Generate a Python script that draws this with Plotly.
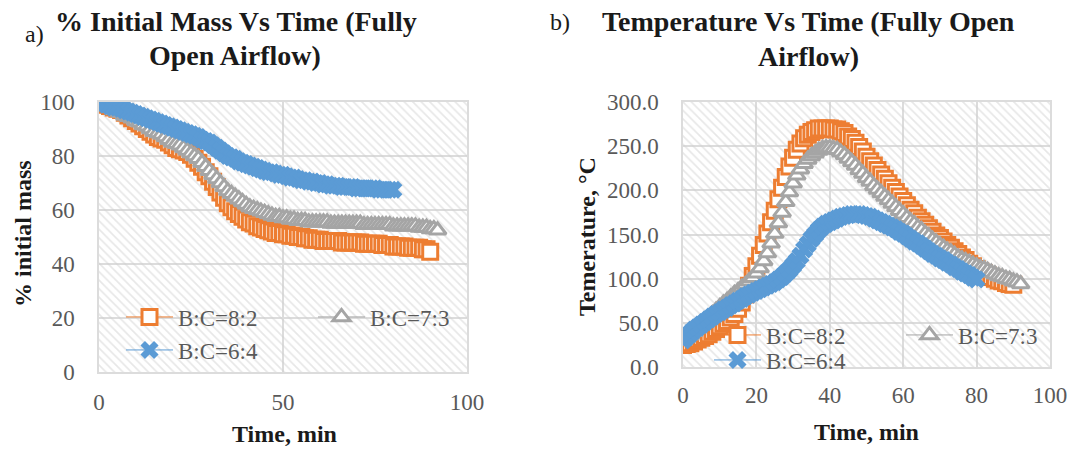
import plotly.graph_objects as go

W, H = 1081, 450

def px(x):
    return x / W

def py(y):
    return 1 - y / H

# ---------------- data ----------------
series_names = ["B:C=8:2", "B:C=7:3", "B:C=6:4"]
series_colors = ["#ED7D31", "#A5A5A5", "#5B9BD5"]

time_82 = list(range(0, 91))
time_73 = list(range(0, 93))
time_64 = list(range(0, 81))

mass_82 = [100, 99.5, 99, 98.5, 98, 97.5, 97, 96, 95, 94,
           93, 92, 91, 90, 89, 88, 87, 86.5, 86, 85,
           84, 83, 82.5, 82, 81.5, 80.5, 79, 77.5, 76, 74,
           72.5, 70.5, 68.5, 66.5, 64.5, 62.5, 61, 59.5, 58.5, 57.5,
           56.5, 55.5, 55, 54, 53.5, 53, 52.5, 52, 51.5, 51.5,
           51, 51, 50.5, 50.5, 50, 50, 49.5, 49.5, 49, 49,
           49, 48.5, 48.5, 48.5, 48.5, 48.5, 48, 48, 48, 48,
           48, 48, 47.5, 47.5, 47.5, 47.5, 47.5, 47, 47, 47,
           46.5, 46.5, 46.5, 46.5, 46, 46, 46, 46, 45.5, 45.5,
           44.5]

mass_73 = [100, 99, 98.5, 98, 97, 96.5, 96, 95, 94.5, 94,
           93, 92.5, 91.5, 91, 90, 89, 88.5, 88, 87, 86,
           85, 84.5, 84, 83, 82, 81, 80, 79, 77.5, 76,
           74.5, 73, 71.5, 70, 68.5, 67, 66, 65, 64, 63,
           62, 61, 60.5, 60, 59.5, 59, 58.5, 58, 57.5, 57.5,
           57, 57, 56.5, 56.5, 56, 56, 56, 55.5, 55.5, 55.5,
           55.5, 55.5, 55.5, 55, 55, 55, 55, 55, 55, 55,
           55, 55, 54.5, 54.5, 54.5, 54.5, 54.5, 54.5, 54.5, 54.5,
           54, 54, 54, 54, 54, 54, 54, 53.5, 53.5, 53.5,
           53, 53, 52.5]

mass_64 = [100, 99.5, 99, 98.5, 98, 98, 97.5, 97, 96.5, 96,
           95.5, 95, 94.5, 94, 93.5, 93, 92.5, 92, 91.5, 91,
           90.5, 90, 89.5, 89, 88.5, 88, 87.5, 87, 86, 85.5,
           85, 84, 83, 82, 81, 80, 79.5, 79, 78, 77.5,
           77, 76.5, 76, 75.5, 75, 74.5, 74, 74, 73.5, 73,
           73, 72.5, 72, 72, 71.5, 71, 71, 70.5, 70.5, 70,
           70, 69.5, 69.5, 69, 69, 69, 68.5, 68.5, 68.5, 68.5,
           68, 68, 68, 68, 68, 68, 67.5, 67.5, 67.5, 67.5,
           67.5]

temp_82 = [25, 26, 27, 29, 31, 33, 35, 37, 40, 43,
           46, 49, 52, 56, 60, 66, 73, 82, 92, 103,
           114, 126, 138, 151, 164, 177, 190, 203, 215, 227,
           237, 246, 253, 259, 263, 266, 268, 270, 270, 270,
           270, 269, 269, 267, 265, 261, 258, 254, 249, 244,
           238, 233, 228, 223, 218, 213, 208, 203, 198, 193,
           188, 183, 178, 174, 169, 165, 161, 157, 153, 149,
           146, 142, 138, 135, 131, 128, 124, 121, 117, 114,
           111, 108, 106, 104, 102, 100, 98, 97, 95, 94,
           93]

temp_73 = [30, 33, 36, 40, 44, 48, 52, 56, 60, 64,
           68, 72, 75, 79, 83, 86, 90, 93, 97, 101,
           106, 112, 120, 129, 140, 151, 163, 175, 187, 198,
           208, 217, 224, 230, 235, 239, 242, 245, 247, 248,
           248, 247, 246, 243, 240, 236, 232, 228, 223, 219,
           214, 210, 205, 201, 197, 193, 189, 185, 181, 177,
           173, 169, 165, 162, 158, 155, 151, 148, 144, 141,
           138, 135, 132, 130, 127, 124, 122, 120, 118, 116,
           114, 112, 111, 109, 107, 105, 103, 102, 100, 99,
           97, 96, 94]

temp_64 = [30, 34, 38, 42, 45, 48, 51, 54, 57, 60,
           62, 65, 67, 70, 72, 75, 77, 80, 82, 84,
           86, 88, 90, 92, 94, 96, 99, 102, 106, 110,
           115, 120, 126, 133, 139, 145, 150, 155, 159, 162,
           164, 166, 168, 170, 171, 172, 173, 173, 173, 172,
           171, 170, 168, 166, 164, 162, 160, 158, 156, 153,
           151, 148, 145, 142, 140, 137, 134, 131, 128, 126,
           123, 121, 118, 116, 113, 111, 108, 106, 104, 101,
           99]

mass_ticks = [0, 20, 40, 60, 80, 100]
mass_time_ticks = [0, 50, 100]
temp_ticks = [0, 50, 100, 150, 200, 250, 300]
temp_tick_text = ["0.0", "50.0", "100.0", "150.0", "200.0", "250.0", "300.0"]
temp_time_ticks = [0, 20, 40, 60, 80, 100]

x_range = [0, 100]
mass_range = [0, 100]
temp_range = [0, 300]

# ---------------- style ----------------
SERIF = "Liberation Serif, Times New Roman, DejaVu Serif, serif"
GRID = "#dcdcdc"
TICKC = "#595959"
TXT = "#1a1a1a"

marker_styles = [
    dict(symbol="square", size=15, color="white", line=dict(color=series_colors[0], width=3)),
    dict(symbol="triangle-up", size=15, color="white", line=dict(color=series_colors[1], width=3)),
    dict(symbol="x", size=16, color=series_colors[2], line=dict(width=0)),
]

fig = go.Figure()

# hatched plot backgrounds (drawn from axis ranges)
for xa, ya, yr in [("x", "y", mass_range), ("x2", "y2", temp_range)]:
    fig.add_trace(go.Scatter(
        x=[x_range[0], x_range[1], x_range[1], x_range[0], x_range[0]],
        y=[yr[0], yr[0], yr[1], yr[1], yr[0]],
        xaxis=xa, yaxis=ya, mode="lines", fill="toself",
        fillcolor="rgba(0,0,0,0)", line=dict(width=0),
        fillpattern=dict(shape="\\", size=6, solidity=0.28, fgcolor="#d0d0d0",
                         bgcolor="rgba(0,0,0,0)", fillmode="overlay"),
        showlegend=False, hoverinfo="skip"))

mass_data = [(time_82, mass_82), (time_73, mass_73), (time_64, mass_64)]
temp_data = [(time_82, temp_82), (time_73, temp_73), (time_64, temp_64)]
left_legends = ["legend", "legend", "legend2"]
right_legends = ["legend3", "legend3", "legend4"]

for i, (t, v) in enumerate(mass_data):
    fig.add_trace(go.Scatter(
        x=t, y=v, name=series_names[i], mode="lines+markers",
        line=dict(color=series_colors[i], width=1),
        marker=marker_styles[i], xaxis="x", yaxis="y",
        legend=left_legends[i]))

for i, (t, v) in enumerate(temp_data):
    fig.add_trace(go.Scatter(
        x=t, y=v, name=series_names[i], mode="lines+markers",
        line=dict(color=series_colors[i], width=1),
        marker=marker_styles[i], xaxis="x2", yaxis="y2",
        legend=right_legends[i]))

axis_common = dict(showgrid=True, gridcolor=GRID, gridwidth=1.5,
                   showline=True, linecolor=GRID, linewidth=1.5, mirror=True,
                   zeroline=False, ticks="", automargin=False,
                   tickfont=dict(family=SERIF, size=23, color=TICKC))

leg_common = dict(orientation="h", bgcolor="rgba(0,0,0,0)", xanchor="left", yanchor="middle",
                  font=dict(family=SERIF, size=23, color=TICKC), entrywidth=130,
                  itemwidth=47)

fig.update_layout(
    width=W, height=H,
    font=dict(family=SERIF, size=23, color=TICKC),
    margin=dict(l=0, r=0, t=0, b=0, autoexpand=False),
    paper_bgcolor="white", plot_bgcolor="white",
    xaxis=dict(domain=[px(99), px(467)], range=x_range, tickvals=mass_time_ticks,
               ticklabelstandoff=9, anchor="y", **axis_common),
    yaxis=dict(domain=[py(372), py(102)], range=mass_range, tickvals=mass_ticks,
               ticklabelstandoff=18, anchor="x", **axis_common),
    xaxis2=dict(domain=[px(683), px(1050)], range=x_range, tickvals=temp_time_ticks,
                ticklabelstandoff=7, anchor="y2", **axis_common),
    yaxis2=dict(domain=[py(367), py(102)], range=temp_range, tickvals=temp_ticks,
                ticktext=temp_tick_text, ticklabelstandoff=18, anchor="x2", **axis_common),
    legend=dict(x=px(121), y=py(317), **leg_common),
    legend2=dict(x=px(121), y=py(350), **leg_common),
    legend3=dict(x=px(709), y=py(335), **leg_common),
    legend4=dict(x=px(709), y=py(360), **leg_common),
    showlegend=True,
)

ann = []
def text(x, y, s, size, bold=False, angle=0, color=TXT):
    ann.append(dict(x=px(x), y=py(y), xref="paper", yref="paper", showarrow=False,
                    text=f"<b>{s}</b>" if bold else s, textangle=angle,
                    xanchor="center", yanchor="middle",
                    font=dict(family=SERIF, size=size, color=color)))

text(236, 22, "% Initial Mass Vs Time (Fully", 28, True)
text(235, 55, "Open Airflow)", 28, True)
text(34, 34, "a)", 24)
text(808, 22, "Temperature Vs Time (Fully Open", 28, True)
text(808, 56, "Airflow)", 28, True)
text(560, 22, "b)", 24)
text(23, 234, "% initial mass", 24, True, -90)
text(284, 434, "Time, min", 24, True)
text(587, 237, "Temerature, °C", 24, True, -90)
text(866, 432, "Time, min", 24, True)
fig.update_layout(annotations=ann)

fig.write_html("out.html")
